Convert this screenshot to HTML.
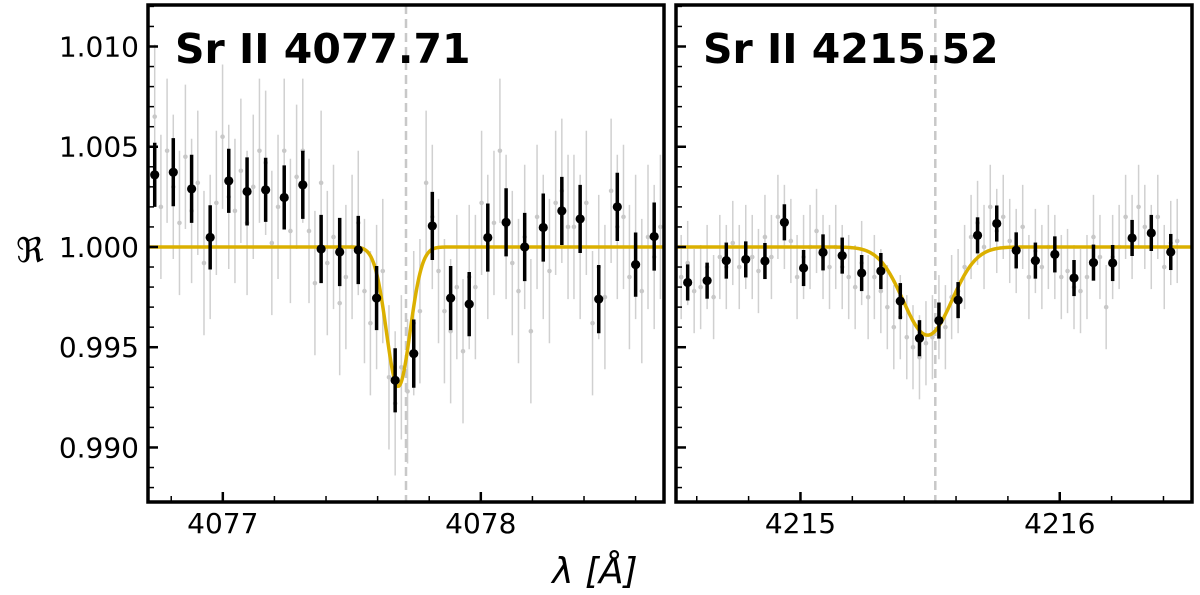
<!DOCTYPE html>
<html><head><meta charset="utf-8"><style>
body{margin:0;background:#fff;}
svg{display:block;font-family:"DejaVu Sans","Liberation Sans",sans-serif;}
</style></head><body>
<svg id="chart" width="1200" height="595"></svg>
<script>
// ---- data ----
const leftLambda=[4076.736,4076.808,4076.879,4076.951,4077.023,4077.094,4077.166,4077.238,4077.310,4077.381,4077.453,4077.525,4077.596,4077.668,4077.740,4077.812,4077.883,4077.955,4078.027,4078.098,4078.170,4078.242,4078.314,4078.385,4078.457,4078.529,4078.600,4078.672];
const leftFlux=[1.0036,1.00373,1.0029,1.00048,1.0033,1.00277,1.00285,1.00247,1.0031,0.9999,0.99975,0.99985,0.99745,0.99335,0.99468,1.00105,0.99745,0.99715,1.00047,1.00123,1.0000,1.00097,1.0018,1.0014,0.9974,1.002,0.99912,1.00052];
const leftErr=[0.0016,0.0017,0.0017,0.0016,0.0016,0.0017,0.0016,0.0016,0.0017,0.0017,0.0017,0.0017,0.0016,0.0016,0.0017,0.0017,0.0016,0.0016,0.0017,0.0017,0.0017,0.0017,0.0017,0.0017,0.0017,0.0017,0.0016,0.0017];
const leftGray=[1.0030,1.0065,1.0020,1.0048,1.0030,1.0012,1.0045,1.0018,1.0032,0.9992,1.0000,1.0022,1.0055,1.0025,1.0018,1.0038,1.0012,1.0030,1.0048,1.0042,1.0002,1.0020,1.0048,1.0008,1.0035,1.0048,1.0008,0.9982,1.0032,0.9992,1.0005,0.9972,0.9985,1.0000,1.0012,0.9978,0.9962,0.9975,0.9988,0.9935,0.9922,0.9940,0.9928,0.9962,0.9968,1.0032,1.0015,0.9988,0.9968,0.9958,0.9980,0.9948,0.9985,0.9980,1.0022,1.0000,1.0012,1.0048,1.0010,0.9992,0.9978,1.0005,0.9958,1.0015,1.0000,0.9988,1.0022,1.0028,1.0010,1.0010,1.0000,1.0022,0.9962,0.9990,0.9975,1.0028,1.0010,1.0015,0.9985,1.0000,0.9978,1.0005,0.9995,1.0010];
const leftGrayErr=[0.0036];
const leftFit=[4077.68,0.00695,0.046]; // center, depth, sigma
const leftLine=[4077.71];

const rightLambda=[4214.565,4214.640,4214.714,4214.789,4214.863,4214.938,4215.012,4215.087,4215.161,4215.236,4215.310,4215.385,4215.459,4215.534,4215.608,4215.683,4215.757,4215.832,4215.906,4215.981,4216.055,4216.130,4216.204,4216.279,4216.353,4216.428];
const rightFlux=[0.99823,0.99832,0.99932,0.99938,0.9993,1.00123,0.99895,0.99973,0.99957,0.9987,0.9988,0.9973,0.99545,0.99633,0.99735,1.00058,1.00117,0.99983,0.99932,0.99963,0.99845,0.99922,0.9992,1.00045,1.0007,0.99975];
const rightErr=[0.0009,0.0009,0.0009,0.0009,0.0009,0.0009,0.0009,0.0009,0.0009,0.0009,0.0009,0.0009,0.0009,0.0009,0.0009,0.0009,0.0009,0.0009,0.0009,0.0009,0.0009,0.0009,0.0009,0.0009,0.0009,0.0009];
const rightGray=[0.9985,0.9992,0.9978,0.9980,0.9990,0.9975,0.9995,0.9990,1.0002,0.9990,1.0000,0.9995,0.9988,1.0005,0.9995,1.0015,1.0010,1.0003,0.9985,0.9995,1.0000,1.0008,0.9995,0.9990,1.0000,0.9990,0.9985,0.9980,0.9992,0.9975,0.9985,0.9978,0.9970,0.9960,0.9965,0.9955,0.9950,0.9945,0.9952,0.9955,0.9965,0.9960,0.9975,0.9978,0.9990,1.0005,1.0012,1.0000,1.0020,1.0008,1.0015,1.0003,0.9998,1.0010,0.9985,0.9998,0.9990,1.0000,0.9995,0.9985,0.9988,0.9980,0.9978,0.9985,1.0005,0.9995,0.9970,0.9995,1.0000,1.0015,1.0005,1.0020,1.0010,1.0000,1.0015,0.9990,1.0002,1.0003];
const rightGrayErr=[0.0021];
const rightFit=[4215.49,0.0044,0.094];
const rightLine=[4215.52];

const yTicks=[0.990,0.995,1.000,1.005,1.010];
const yTickLabels=["0.990","0.995","1.000","1.005","1.010"];
const leftXTicks=[4077,4078];
const rightXTicks=[4215,4216];

// ---- drawing ----
const NS="http://www.w3.org/2000/svg";
const svg=document.getElementById('chart');
function mk(tag,attrs,parent){const e=document.createElementNS(NS,tag);for(const k in attrs)e.setAttribute(k,attrs[k]);(parent||svg).appendChild(e);return e;}
const Y0=5,Y1=502,YMIN=0.98728,YMAX=1.01207;
const y=v=>Y1-(v-YMIN)/(YMAX-YMIN)*(Y1-Y0);

function panel(cfg){
  const g=mk('g',{});
  
  
  const x=l=>cfg.x0+(l-cfg.lmin)/(cfg.lmax-cfg.lmin)*(cfg.x1-cfg.x0);
  const clip=mk('clipPath',{id:cfg.name+'-clip'},g);
  mk('rect',{x:cfg.x0,y:Y0,width:cfg.x1-cfg.x0,height:Y1-Y0},clip);
  const inner=mk('g',{'clip-path':'url(#'+cfg.name+'-clip)'},g);
  const step=cfg.lam[1]-cfg.lam[0];
  cfg.gray.forEach((v,i)=>{
    const b=Math.floor(i/3),k=i%3;
    const l=cfg.lam[b]+(k-1)*step/3;
    const ln=mk('line',{x1:x(l),x2:x(l),y1:y(v-cfg.gErr[0]),y2:y(v+cfg.gErr[0]),stroke:'#d0d0d0','stroke-width':1.5},inner);
    
    
    const c=mk('circle',{cx:x(l),cy:y(v),r:2.3,fill:'#c8c8c8'},inner);
    
    
  });
  const dl=mk('line',{x1:x(cfg.line[0]),x2:x(cfg.line[0]),y1:Y0,y2:Y1,stroke:'#c8c8c8','stroke-width':2.5,'stroke-dasharray':'9,5'},inner);
  
  
  let d='';
  for(let px=cfg.x0;px<=cfg.x1;px+=1){
    const l=cfg.lmin+(px-cfg.x0)/(cfg.x1-cfg.x0)*(cfg.lmax-cfg.lmin);
    const v=1-cfg.fit[1]*Math.exp(-Math.pow(l-cfg.fit[0],2)/(2*cfg.fit[2]*cfg.fit[2]));
    d+=(d?'L':'M')+px+','+y(v).toFixed(2);
  }
  const fp=mk('path',{d:d,fill:'none',stroke:'#dbb000','stroke-width':3.5},inner);
  
  
  cfg.lam.forEach((l,i)=>{
    const v=cfg.flux[i],e=cfg.err[i];
    const ln=mk('line',{x1:x(l),x2:x(l),y1:y(v-e),y2:y(v+e),stroke:'#000','stroke-width':3.5},inner);
    
    
    const c=mk('circle',{cx:x(l),cy:y(v),r:4.6,fill:'#000'},inner);
    
    
  });
  for(let t=0.988;t<=1.0121;t+=0.001){
    const major=Math.abs(Math.round(t*1000)%5)===0;
    mk('line',{x1:cfg.x0,x2:cfg.x0+(major?10:6),y1:y(t),y2:y(t),stroke:'#000','stroke-width':major?2.5:1.5},g);
  }
  if(cfg.labels){
    yTicks.forEach((t,i)=>{
      const tx=mk('text',{x:cfg.x0-9,y:y(t)+10,'font-size':28,'text-anchor':'end',fill:'#000'},g);
      tx.textContent=yTickLabels[i];
      
      
    });
  }
  const start=Math.ceil(cfg.lmin*5)/5;
  for(let l=start;l<=cfg.lmax;l+=0.2){
    const major=Math.abs(l-Math.round(l))<0.01;
    mk('line',{x1:x(l),x2:x(l),y1:Y1,y2:Y1-(major?10:6),stroke:'#000','stroke-width':major?2.5:1.5},g);
  }
  cfg.xt.forEach(t=>{
    const tx=mk('text',{x:x(t),y:533,'font-size':28,'text-anchor':'middle',fill:'#000'},g);
    tx.textContent=String(t);
    
    
  });
  const fr=mk('rect',{x:cfg.x0,y:Y0,width:cfg.x1-cfg.x0,height:Y1-Y0,fill:'none',stroke:'#000','stroke-width':3.5},g);
  
  
  const ti=mk('text',{x:cfg.x0+27,y:63,'font-size':41,'font-weight':'bold',fill:'#000'},g);
  ti.textContent=cfg.title;
  
  
}
panel({name:'left-panel',x0:148,x1:664,lmin:4076.71,lmax:4078.71,lam:leftLambda,flux:leftFlux,err:leftErr,gray:leftGray,gErr:leftGrayErr,fit:leftFit,line:leftLine,xt:leftXTicks,labels:true,title:'Sr II 4077.71'});
panel({name:'right-panel',x0:676,x1:1192,lmin:4214.52,lmax:4216.51,lam:rightLambda,flux:rightFlux,err:rightErr,gray:rightGray,gErr:rightGrayErr,fit:rightFit,line:rightLine,xt:rightXTicks,labels:false,title:'Sr II 4215.52'});

const yl=mk('text',{x:30,y:262,'font-size':34,'text-anchor':'middle',fill:'#000'});
yl.textContent='ℜ';


const xl=mk('text',{x:595,y:583,'font-size':36,'text-anchor':'middle','font-style':'italic',fill:'#000'});
xl.textContent='λ [Å]';


</script>
</body></html>
